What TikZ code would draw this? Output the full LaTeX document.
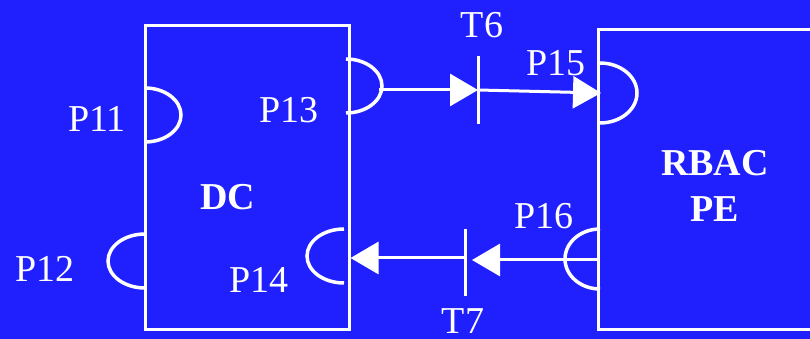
\documentclass[tikz,border=0pt]{standalone}
\usepackage{fontspec}
\setmainfont{Liberation Serif}
\usetikzlibrary{positioning,arrows.meta}
\definecolor{bgblue}{RGB}{32,32,255}

\begin{document}
\begin{tikzpicture}[
    x=1pt, y=1pt,
    box/.style={rectangle, draw=white, line width=3pt, inner sep=0pt},
    port/.style={draw=white, line width=3.5pt},
    lbl/.style={text=white, font=\fontsize{38}{46}\selectfont, inner sep=0pt},
    blk/.style={lbl, font=\fontsize{38}{46}\selectfont\bfseries, align=center},
    bar/.style={draw=white, line width=3pt},
    arr/.style={-{Triangle[length=28pt, width=32pt]}, draw=white, fill=white, line width=3pt}
]
    \useasboundingbox[fill=bgblue] (0,0) rectangle (810,339);
    \clip (0,0) rectangle (810,339);

    % components
    \node[box, minimum width=204pt, minimum height=304pt] (dc) at (247,161) {};
    \node[box, minimum width=230pt, minimum height=300pt] (rbac) at (713,159) {};
    \node[blk] (dclbl) at (228,142) {DC};
    \node[blk] (rbaclbl) at (715,153) {RBAC\\PE};

    % ports
    \draw[port] (145,251) arc[start angle=90, end angle=-90, x radius=36, y radius=27];
    \draw[port] (145,105) arc[start angle=90, end angle=270, x radius=37, y radius=27];
    \draw[port] (346,280) arc[start angle=90, end angle=-90, x radius=36, y radius=27];
    \draw[port] (344,110) arc[start angle=90, end angle=270, x radius=37, y radius=27];
    \draw[port] (600,276) arc[start angle=90, end angle=-90, x radius=37, y radius=30];
    \draw[port] (600,110) arc[start angle=90, end angle=270, x radius=35, y radius=30];

    \node[lbl] (p11) at (97,220) {P11};
    \node[lbl] (p12) at (45,70) {P12};
    \node[lbl] (p13) at (289,229) {P13};
    \node[lbl] (p14) at (259,59) {P14};
    \node[lbl] (p15) at (556,276) {P15};
    \node[lbl] (p16) at (544,123) {P16};

    \coordinate (p13out) at (379,249);
    \coordinate (p15in) at (601,246);
    \coordinate (p16out) at (598,79);

    % transitions
    \coordinate (t6) at (478,249);
    \coordinate (t7) at (465,81);
    \draw[bar] ([yshift=34pt]t6) -- ([yshift=-34pt]t6);
    \draw[bar] ([yshift=29pt]t7) -- ([yshift=-38pt]t7);
    \node[lbl] (t6lbl) at (482,314) {T6};
    \node[lbl] (t7lbl) at (463,18) {T7};

    \draw[arr] (p13out) -- (t6);
    \draw[arr] (t6) -- (p15in);
    \draw[arr] (p16out) -- ([xshift=7pt,yshift=-2pt]t7);
    \draw[arr] (t7) -- (dc.east |- t7);
\end{tikzpicture}
\end{document}
